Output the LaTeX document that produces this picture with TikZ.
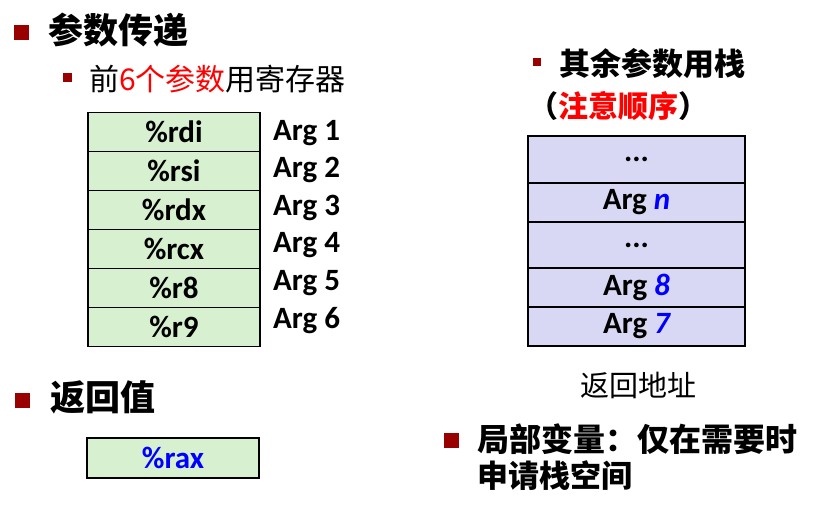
\documentclass[tikz,border=0pt]{standalone}
\usepackage{fontspec}
\usepackage{tikz}
\usetikzlibrary{
    positioning,
    calc
}
\usepackage{xcolor}
\setmainfont{Carlito}
\newfontfamily\cjk{Noto Sans CJK SC}

\definecolor{bulletred}{RGB}{153,0,0}
\definecolor{regfill}{RGB}{214,240,208}
\definecolor{stackfill}{RGB}{216,216,244}

\begin{document}
\begin{tikzpicture}[x=1pt,y=-1pt]
  \useasboundingbox (0,0) rectangle (817,506);

  % Styles for bullets, boxes and labels
  \tikzset{
    bigbullet/.style={fill=bulletred, inner sep=0pt, minimum size=15pt},
    smallbullet/.style={fill=bulletred, inner sep=0pt, minimum size=9pt},
    heading/.style={anchor=west, inner sep=0pt, font=\fontsize{35}{40}\selectfont\cjk\bfseries},
    subheading/.style={anchor=west, inner sep=0pt, font=\fontsize{30}{34}\selectfont\cjk},
    regbox/.style={draw, line width=1.6pt, fill=regfill, minimum width=172pt, minimum height=39pt,
                   inner sep=0pt, font=\fontsize{31}{34}\selectfont\bfseries},
    stackbox/.style={draw, line width=1.6pt, fill=stackfill, minimum width=217pt,
                     inner sep=0pt, font=\fontsize{31}{34}\selectfont\bfseries},
    arglabel/.style={anchor=west, inner sep=0pt, font=\fontsize{31}{34}\selectfont\bfseries}
  }

  % --- Parameter passing
  \node[bigbullet] (b_params) at (21,32) {};
  \node[heading] (t_params) at (48,30) {参数传递};
  \node[smallbullet] (b_regs) at (67,77) {};
  \node[subheading] (t_regs) at (89,79) {前\textcolor{red}{6个参数}用寄存器};

  % Registers for the first six arguments
  \node[regbox] (rdi) at (174,132) {\%rdi};
  \node[regbox] (rsi) at (174,171) {\%rsi};
  \node[regbox] (rdx) at (174,210) {\%rdx};
  \node[regbox] (rcx) at (174,249) {\%rcx};
  \node[regbox] (r8)  at (174,288) {\%r8};
  \node[regbox] (r9)  at (174,327) {\%r9};

  \node[arglabel] (arg1) at (273,133) {Arg 1};
  \node[arglabel] (arg2) at (273,170) {Arg 2};
  \node[arglabel] (arg3) at (273,208) {Arg 3};
  \node[arglabel] (arg4) at (273,245) {Arg 4};
  \node[arglabel] (arg5) at (273,283) {Arg 5};
  \node[arglabel] (arg6) at (273,321) {Arg 6};

  % --- Remaining arguments on the stack
  \node[smallbullet, minimum size=8pt] (b_stack) at (537,62) {};
  \node[subheading, font=\fontsize{31}{34}\selectfont\cjk\bfseries] (t_stack) at (559,64) {其余参数用栈};
  \node[subheading, font=\fontsize{30}{34}\selectfont\cjk\bfseries] (t_order) at (528,106)
    {（\textcolor{red}{注意顺序}）};

  \node[stackbox, minimum height=47pt] (s_dots1) at (636.5,159.5) {...};
  \node[stackbox, minimum height=39pt] (s_argn)  at (636.5,202.5) {Arg \textcolor{blue}{\itshape n}};
  \node[stackbox, minimum height=46pt] (s_dots2) at (636.5,245) {...};
  \node[stackbox, minimum height=39pt] (s_arg8)  at (636.5,287.5) {Arg \textcolor{blue}{\itshape 8}};
  \node[stackbox, minimum height=39pt] (s_arg7)  at (636.5,326.5) {Arg \textcolor{blue}{\itshape 7}};

  \node[subheading, anchor=center, font=\fontsize{29}{32}\selectfont\cjk] (t_ret) at (638,385) {返回地址};

  % --- Return value
  \node[bigbullet] (b_retval) at (22,400) {};
  \node[heading] (t_retval) at (50,397) {返回值};
  \node[regbox, minimum height=40pt] (rax) at (173,458) {\textcolor{blue}{\%rax}};

  % --- Local variables
  \node[bigbullet] (b_local) at (451,440) {};
  \node[heading, font=\fontsize{32}{36}\selectfont\cjk\bfseries] (t_local) at (477,439) {局部变量：仅在需要时};
  \node[heading, font=\fontsize{31}{36}\selectfont\cjk\bfseries] (t_local2) at (477,476) {申请栈空间};
\end{tikzpicture}
\end{document}
